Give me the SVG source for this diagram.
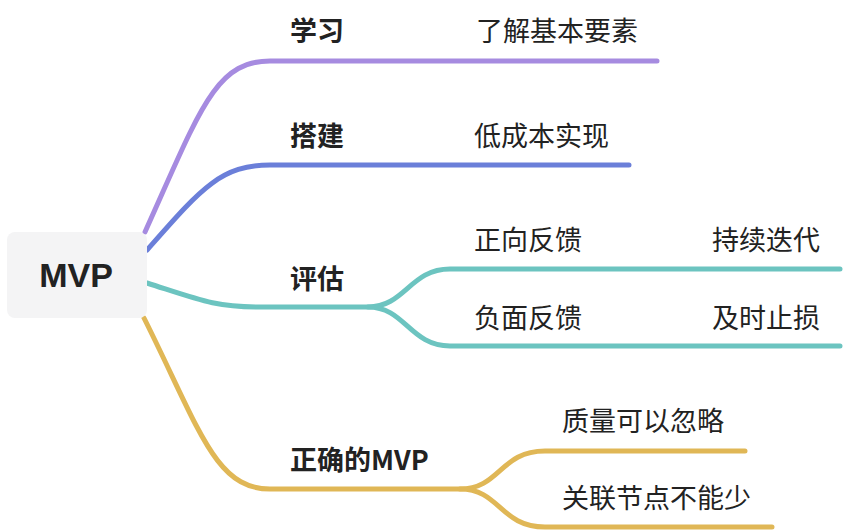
<svg xmlns="http://www.w3.org/2000/svg" width="846" height="532" viewBox="0 0 846 532">
<style>
.e{fill:none;stroke-width:5;stroke-linecap:round;stroke-linejoin:round}
.p{stroke:#a68be0}.b{stroke:#6b7fd9}.t{stroke:#6cc4c0}.g{stroke:#e0b756}
.l1{font-family:"Noto Sans CJK SC","Noto Sans",sans-serif;font-size:27px;font-weight:bold;fill:#222}
.l2{font-family:"Noto Sans CJK SC","Noto Sans",sans-serif;font-size:27px;fill:#222}
</style>
<rect width="846" height="532" fill="#fff"/>
<g id="connectors">
<path class="e p" d="M145 232 C 200 110, 215 61, 270 61 L 657 61"/>
<path class="e b" d="M147 250 C 200 190, 220 165, 270 165 L 629 165"/>
<path class="e t" d="M147 283 C 200 300, 215 307, 260 307 L 368 307 C 405 307, 410 269, 450 269 L 840 269"/>
<path class="e t" d="M368 307 C 405 307, 410 346, 450 346 L 840 346"/>
<path class="e g" d="M144 318 C 200 430, 215 489, 270 489 L 460 489 C 500 489, 500 451, 545 451 L 745 451"/>
<path class="e g" d="M460 489 C 500 489, 500 527, 545 527 L 772 527"/>
</g>
<g id="root">
<rect x="7" y="232" width="140" height="86" rx="8" fill="#f4f4f5"/>
<text x="76" y="287" text-anchor="middle" font-family="Liberation Sans,Arial,sans-serif" font-size="34" font-weight="bold" fill="#222">MVP</text>
</g>
<g id="n-xuexi"><text class="l1" x="290" y="41">学习</text></g>
<g id="n-liaojie"><text class="l2" x="476" y="41">了解基本要素</text></g>
<g id="n-dajian"><text class="l1" x="290" y="146">搭建</text></g>
<g id="n-dichengben"><text class="l2" x="474" y="146">低成本实现</text></g>
<g id="n-pinggu"><text class="l1" x="290" y="289">评估</text></g>
<g id="n-zhengxiang"><text class="l2" x="474" y="250">正向反馈</text></g>
<g id="n-chixu"><text class="l2" x="712" y="250">持续迭代</text></g>
<g id="n-fumian"><text class="l2" x="474" y="328">负面反馈</text></g>
<g id="n-jishi"><text class="l2" x="712" y="328">及时止损</text></g>
<g id="n-zhengque"><text class="l1" x="290" y="470">正确的MVP</text></g>
<g id="n-zhiliang"><text class="l2" x="562" y="431">质量可以忽略</text></g>
<g id="n-guanlian"><text class="l2" x="562" y="508">关联节点不能少</text></g>
</svg>
